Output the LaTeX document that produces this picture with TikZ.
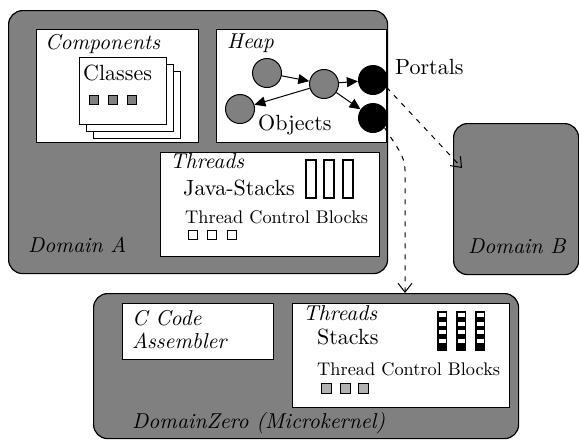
\documentclass[tikz,border=0pt]{standalone}
\usepackage{fontspec}
\setmainfont{lmroman10-regular}[Extension=.otf, ItalicFont=lmroman10-italic, BoldFont=lmroman10-bold]
\usetikzlibrary{arrows.meta}

\definecolor{domgray}{gray}{0.5}
\definecolor{tcbgray}{gray}{0.7}

\tikzset{
  domainbox/.style={draw, line width=1.2pt, fill=domgray, rounded corners=14pt, anchor=north west, inner sep=0pt},
  box/.style={draw, line width=1.2pt, fill=white, anchor=north west, inner sep=0pt},
  obj/.style={circle, draw, line width=1pt, fill=domgray, minimum size=29pt, inner sep=0pt},
  portal/.style={circle, fill=black, minimum size=30pt, inner sep=0pt},
  ref/.style={-{Triangle[length=11pt,width=10pt]}, line width=1pt},
  link/.style={-{Straight Barb[length=9pt,width=14pt]}, line width=1pt, dash pattern=on 5pt off 6pt},
  lbl/.style={anchor=base west, inner sep=0pt, font=\fontsize{22}{24}\selectfont},
  title/.style={lbl, font=\fontsize{21.5}{24}\selectfont\itshape},
  tcblbl/.style={lbl, font=\fontsize{18.3}{20}\selectfont}
}

\begin{document}
\begin{tikzpicture}[x=1pt,y=-1pt]

   \useasboundingbox (0,0) rectangle (579,440);

   % domains
   \node[domainbox, minimum width=379pt, minimum height=263pt] (domA) at (8,10) {};
   \node[domainbox, minimum width=125pt, minimum height=151pt] (domB) at (453,123) {};
   \node[domainbox, minimum width=425pt, minimum height=145pt] (domZ) at (93,293) {};

   % components
   \node[box, minimum width=162pt, minimum height=113pt] (comp) at (36,29) {};
   \node[title] at (45,49) {Components};
   \foreach \d in {14,7,0}
      \draw[line width=1pt, fill=white] (79+\d,57+\d) rectangle ++(87,67);
   \node[lbl] at (83,80) {Classes};
   \foreach \x in {89,108,127}
      \draw[line width=0.8pt, fill=domgray] (\x,95) rectangle ++(9,9);

   % heap
   \node[box, minimum width=170pt, minimum height=113pt] (heap) at (216,29) {};
   \node[title] at (227,48) {Heap};
   \node[obj] (o1) at (267,73) {};
   \node[obj] (o2) at (324,84) {};
   \node[obj] (o3) at (240,109) {};
   \node[portal] (p1) at (373,80) {};
   \node[portal] (p2) at (373,118) {};
   \node[lbl] (objlbl) at (258,130) {Objects};
   \node[lbl] (portlbl) at (395,74) {Portals};

   \draw[ref] (o1) -- (o2);
   \draw[ref] (o2) -- (o3);
   \draw[ref] (o2) -- (p1);
   \draw[ref] (o2) -- (p2);

   % threads of domain A
   \node[box, minimum width=219pt, minimum height=104pt] (thrA) at (160,152) {};
   \node[title] at (170,168) {Threads};
   \node[lbl] at (183,195) {Java-Stacks};
   \foreach \x in {306,324,343}
      \draw[line width=1.5pt] (\x,160) rectangle ++(10,38);
   \node[tcblbl] at (185,223) {Thread Control Blocks};
   \foreach \x in {188,207,227}
      \draw[line width=1pt, fill=white] (\x,230) rectangle ++(9,9);

   \node[title] at (28,252) {Domain A};
   \node[title] at (468,253) {Domain B};

   % microkernel
   \node[box, minimum width=151pt, minimum height=56pt] (ccode) at (122,303) {};
   \node[title] at (132,325) {C Code};
   \node[title] at (132,348) {Assembler};

   \node[box, minimum width=217pt, minimum height=104pt] (thrZ) at (292,303) {};
   \node[title] at (303,320) {Threads};
   \node[lbl] at (317,344) {Stacks};
   \foreach \x in {437,456,475} {
      \fill (\x,311) rectangle ++(10,40);
      \foreach \y in {313,321.5,330,339}
         \fill[white] (\x+1.5,\y) rectangle ++(7,4);
   }
   \node[tcblbl] at (317,375) {Thread Control Blocks};
   \foreach \x in {321,340,358}
      \draw[line width=0.8pt, fill=tcbgray] (\x,383) rectangle ++(10,10);

   \node[title] at (132,428) {DomainZero (Microkernel)};

   % portal links
   \coordinate (bIn) at (462,168);
   \coordinate (bend) at (405,170);
   \coordinate (zIn) at (405,293);
   \draw[link] (p1.-28) -- (bIn);
   \draw[link] (p2.-40) .. controls (395,145) and (405,155) .. (bend) -- (zIn);

\end{tikzpicture}
\end{document}
